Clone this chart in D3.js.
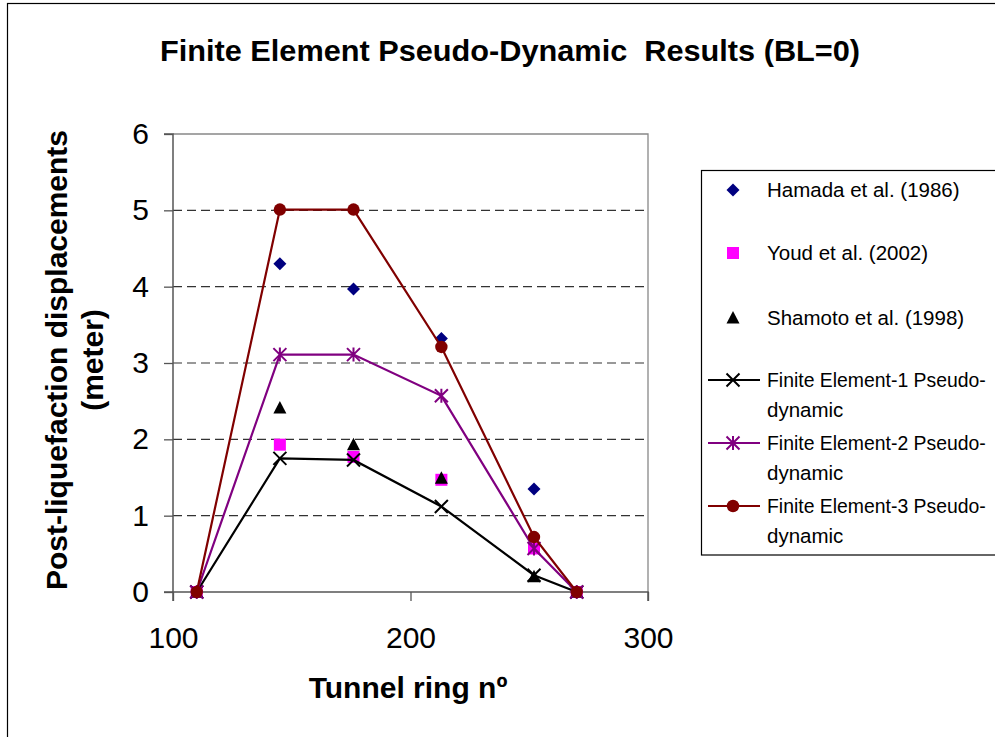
<!DOCTYPE html>
<html><head><meta charset="utf-8">
<script src="https://cdn.jsdelivr.net/npm/d3@7"></script>
<style>body{margin:0;background:#fff}svg{display:block;font-family:"Liberation Sans",Arial,sans-serif}</style>
</head><body>
<svg id="c" width="995" height="737"></svg>
<script>
const ringX = [110, 145, 176, 213, 252, 270];
const hamada = [0, 4.30, 3.97, 3.32, 1.35, 0];
const youd = [0, 1.93, 1.77, 1.47, 0.57, 0];
const shamoto = [0, 2.41, 1.93, 1.49, 0.20, 0];
const fe1 = [0, 1.75, 1.73, 1.12, 0.22, 0];
const fe2 = [0, 3.11, 3.11, 2.57, 0.57, 0];
const fe3 = [0, 5.01, 5.01, 3.21, 0.72, 0];
const xTicks = [100, 200, 300];
const yTicks = [0, 1, 2, 3, 4, 5, 6];
const seriesNames = ["Hamada et al. (1986)", "Youd et al. (2002)", "Shamoto et al. (1998)",
  "Finite Element-1 Pseudo-|dynamic", "Finite Element-2 Pseudo-|dynamic", "Finite Element-3 Pseudo-|dynamic"];

const svg = d3.select("#c");
const L = 173, R = 648, T = 134, B = 592;
const x = d3.scaleLinear().domain([100, 300]).range([L, R]);
const y = d3.scaleLinear().domain([0, 6]).range([B, T]);

// outer frame
svg.append("rect").attr("x", 7.5).attr("y", 3.5).attr("width", 1000).attr("height", 800)
  .attr("fill", "none").attr("stroke", "#000").attr("stroke-width", 1.2);

// title
svg.append("text").attr("x", 510).attr("y", 61).attr("text-anchor", "middle")
  .attr("font-weight", "bold").attr("font-size", 29)
  .attr("textLength", 700).attr("lengthAdjust", "spacingAndGlyphs")
  .text("Finite Element Pseudo-Dynamic\u00a0 Results (BL=0)");

// gridlines
svg.append("g").selectAll("line").data(yTicks.filter(d => d > 0 && d < 6)).join("line")
  .attr("x1", L).attr("x2", R).attr("y1", d => y(d)).attr("y2", d => y(d))
  .attr("stroke", "#333").attr("stroke-width", 1.2).attr("stroke-dasharray", "9,5");

// plot border top/right
svg.append("path").attr("d", `M${L},${T}H${R}V${B}`).attr("fill", "none").attr("stroke", "#888").attr("stroke-width", 1.3);

// axes
const yAxis = svg.append("g").attr("transform", `translate(${L},0)`)
  .call(d3.axisLeft(y).tickValues(yTicks).tickSize(9).tickPadding(14).tickFormat(d3.format("d")));
const xAxis = svg.append("g").attr("transform", `translate(0,${B})`)
  .call(d3.axisBottom(x).tickValues(xTicks).tickSize(9).tickPadding(14).tickFormat(d3.format("d")));
[yAxis, xAxis].forEach(a => {
  a.select(".domain").attr("stroke", "#555").attr("stroke-width", 1.5);
  a.selectAll(".tick line").attr("stroke", "#555").attr("stroke-width", 1.3);
  a.selectAll("text").attr("font-size", 30).attr("fill", "#000").attr("font-family", "Liberation Sans, Arial, sans-serif");
});
yAxis.selectAll("text").attr("x", -24);
xAxis.selectAll("text").attr("dy", null).attr("y", 56);
yAxis.select(".domain").attr("d", `M-9,${B}H0V${T}H-9`);
xAxis.select(".domain").attr("d", `M${L},9V0H${R}V9`);

// axis titles
svg.append("text").attr("transform", "translate(67,360) rotate(-90)").attr("text-anchor", "middle")
  .attr("font-weight", "bold").attr("font-size", 30).text("Post-liquefaction displacements");
svg.append("text").attr("transform", "translate(103,360) rotate(-90)").attr("text-anchor", "middle")
  .attr("font-weight", "bold").attr("font-size", 30).text("(meter)");
svg.append("text").attr("x", 408).attr("y", 698).attr("text-anchor", "middle")
  .attr("font-weight", "bold").attr("font-size", 30).text("Tunnel ring nº");

// marker drawers
const sym = {
  diamond: (g, c) => g.append("path").attr("d", "M0,-6.5L6.5,0L0,6.5L-6.5,0Z").attr("fill", c),
  square: (g, c) => g.append("rect").attr("x", -6).attr("y", -6).attr("width", 12).attr("height", 12).attr("fill", c),
  triangle: (g, c) => g.append("path").attr("d", "M0,-7L6.5,5.5H-6.5Z").attr("fill", c),
  cross: (g, c) => g.append("path").attr("d", "M-6.5,-6.5L6.5,6.5M6.5,-6.5L-6.5,6.5").attr("stroke", c).attr("stroke-width", 2),
  star: (g, c) => g.append("path").attr("d", "M-6.5,-6.5L6.5,6.5M6.5,-6.5L-6.5,6.5M0,-7V7").attr("stroke", c).attr("stroke-width", 2),
  circle: (g, c) => g.append("circle").attr("r", 6.2).attr("fill", c)
};
const series = [
  {v: hamada, c: "#000080", m: "diamond", line: false},
  {v: youd, c: "#FF00FF", m: "square", line: false},
  {v: shamoto, c: "#000000", m: "triangle", line: false},
  {v: fe1, c: "#000000", m: "cross", line: true},
  {v: fe2, c: "#800080", m: "star", line: true},
  {v: fe3, c: "#800000", m: "circle", line: true}
];
const lineGen = d3.line().x((d, i) => x(ringX[i])).y(d => y(d));
series.forEach(s => {
  const g = svg.append("g");
  if (s.line) g.append("path").attr("d", lineGen(s.v)).attr("fill", "none").attr("stroke", s.c).attr("stroke-width", 2.2);
  s.v.forEach((v, i) => {
    const mg = g.append("g").attr("transform", `translate(${x(ringX[i])},${y(v)})`);
    sym[s.m](mg, s.c);
  });
});

// legend
svg.append("rect").attr("x", 701.5).attr("y", 170.5).attr("width", 400).attr("height", 384.5)
  .attr("fill", "#fff").attr("stroke", "#000").attr("stroke-width", 1.2);
const legY = [190, 253, 318, 380, 443, 506];
series.forEach((s, i) => {
  const g = svg.append("g").attr("transform", `translate(0,${legY[i]})`);
  if (s.line) g.append("line").attr("x1", 708).attr("x2", 760).attr("stroke", s.c).attr("stroke-width", 2);
  const mg = g.append("g").attr("transform", "translate(733,0)");
  sym[s.m](mg, s.c);
  const lines = seriesNames[i].split("|");
  lines.forEach((ln, k) => {
    g.append("text").attr("x", 767).attr("y", 7 + k * 30)
      .attr("font-size", (lines.length > 1 && k === 0) ? 19.4 : 20.5).text(ln);
  });
});
</script>
</body></html>
